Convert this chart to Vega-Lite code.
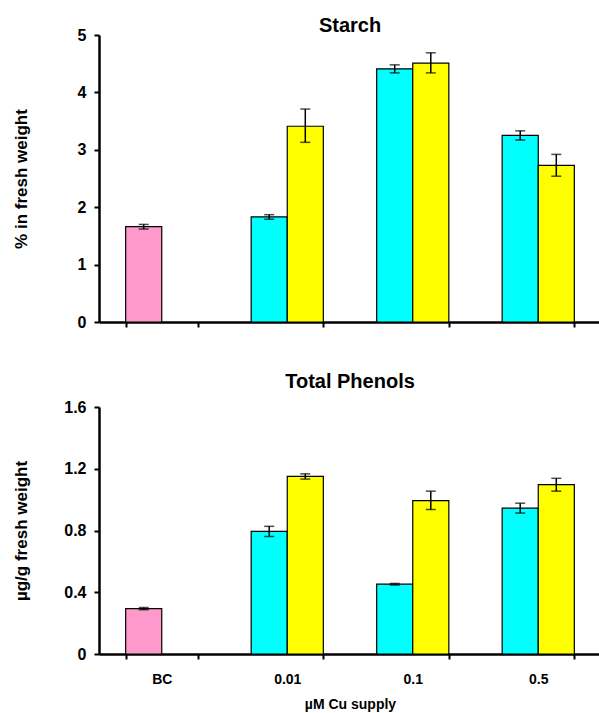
{
  "$schema": "https://vega.github.io/schema/vega-lite/v6.json",
  "padding": {"left": 12, "top": 16, "right": 0, "bottom": 4},
  "spacing": 42,
  "config": {
    "font": "Liberation Sans",
    "view": {"stroke": null},
    "axis": {
      "grid": false,
      "domainColor": "black",
      "domainWidth": 2.5,
      "tickColor": "black",
      "tickWidth": 2,
      "tickSize": 5,
      "labelColor": "black",
      "labelFontWeight": "bold",
      "titleColor": "black",
      "titleFontWeight": "bold"
    },
    "title": {"fontSize": 20, "fontWeight": "bold", "color": "black"}
  },
  "datasets": {
    "d": [
      {"panel": "Starch", "cu": "BC", "slot": "A", "series": "BC", "v": 1.66, "lo": 1.62, "hi": 1.70},
      {"panel": "Starch", "cu": "0.01", "slot": "A", "series": "S1", "v": 1.83, "lo": 1.79, "hi": 1.87},
      {"panel": "Starch", "cu": "0.01", "slot": "B", "series": "S2", "v": 3.41, "lo": 3.13, "hi": 3.71},
      {"panel": "Starch", "cu": "0.1", "slot": "A", "series": "S1", "v": 4.41, "lo": 4.34, "hi": 4.48},
      {"panel": "Starch", "cu": "0.1", "slot": "B", "series": "S2", "v": 4.51, "lo": 4.34, "hi": 4.69},
      {"panel": "Starch", "cu": "0.5", "slot": "A", "series": "S1", "v": 3.25, "lo": 3.17, "hi": 3.33},
      {"panel": "Starch", "cu": "0.5", "slot": "B", "series": "S2", "v": 2.73, "lo": 2.54, "hi": 2.92},
      {"panel": "Phenols", "cu": "BC", "slot": "A", "series": "BC", "v": 0.294, "lo": 0.287, "hi": 0.301},
      {"panel": "Phenols", "cu": "0.01", "slot": "A", "series": "S1", "v": 0.794, "lo": 0.761, "hi": 0.827},
      {"panel": "Phenols", "cu": "0.01", "slot": "B", "series": "S2", "v": 1.15, "lo": 1.133, "hi": 1.167},
      {"panel": "Phenols", "cu": "0.1", "slot": "A", "series": "S1", "v": 0.452, "lo": 0.447, "hi": 0.457},
      {"panel": "Phenols", "cu": "0.1", "slot": "B", "series": "S2", "v": 0.993, "lo": 0.936, "hi": 1.055},
      {"panel": "Phenols", "cu": "0.5", "slot": "A", "series": "S1", "v": 0.945, "lo": 0.913, "hi": 0.977},
      {"panel": "Phenols", "cu": "0.5", "slot": "B", "series": "S2", "v": 1.097, "lo": 1.055, "hi": 1.138}
    ]
  },
  "vconcat": [
    {
      "width": 502,
      "height": 287,
      "title": {"text": "Starch", "offset": -9},
      "data": {"name": "d"},
      "transform": [{"filter": "datum.panel === 'Starch'"}],
      "encoding": {
        "x": {
          "field": "cu", "type": "nominal", "sort": ["BC", "0.01", "0.1", "0.5"],
          "scale": {"paddingInner": 0.425, "paddingOuter": 0.2125},
          "axis": {"labels": false, "title": null, "tickBand": "extent"}
        },
        "xOffset": {"field": "slot", "type": "nominal", "scale": {"domain": ["A", "B"]}}
      },
      "layer": [
        {
          "mark": {"type": "bar", "stroke": "black", "strokeWidth": 1.2},
          "encoding": {
            "y": {
              "field": "v", "type": "quantitative",
              "scale": {"domain": [0, 5]},
              "axis": {"values": [0, 1, 2, 3, 4, 5], "format": "~g", "title": "% in fresh weight", "titleFontSize": 17, "labelFontSize": 16, "labelPadding": 8, "minExtent": 40, "maxExtent": 40, "titlePadding": 29}
            },
            "color": {"field": "series", "type": "nominal", "scale": {"domain": ["BC", "S1", "S2"], "range": ["#FF99CC", "#00FFFF", "#FFFF00"]}, "legend": null}
          }
        },
        {
          "mark": {"type": "rule", "color": "black", "strokeWidth": 1.5},
          "encoding": {"y": {"field": "lo", "type": "quantitative"}, "y2": {"field": "hi"}}
        },
        {
          "mark": {"type": "tick", "color": "black", "size": 10, "thickness": 1.5},
          "encoding": {"y": {"field": "lo", "type": "quantitative"}}
        },
        {
          "mark": {"type": "tick", "color": "black", "size": 10, "thickness": 1.5},
          "encoding": {"y": {"field": "hi", "type": "quantitative"}}
        }
      ]
    },
    {
      "width": 502,
      "height": 247,
      "title": {"text": "Total Phenols", "offset": 7},
      "data": {"name": "d"},
      "transform": [{"filter": "datum.panel === 'Phenols'"}],
      "encoding": {
        "x": {
          "field": "cu", "type": "nominal", "sort": ["BC", "0.01", "0.1", "0.5"],
          "scale": {"paddingInner": 0.425, "paddingOuter": 0.2125},
          "axis": {"labelAngle": 0, "labelFontSize": 14, "labelPadding": 13, "title": "µM Cu supply", "titleFontSize": 14, "titlePadding": 11, "tickBand": "extent"}
        },
        "xOffset": {"field": "slot", "type": "nominal", "scale": {"domain": ["A", "B"]}}
      },
      "layer": [
        {
          "mark": {"type": "bar", "stroke": "black", "strokeWidth": 1.2},
          "encoding": {
            "y": {
              "field": "v", "type": "quantitative",
              "scale": {"domain": [0, 1.6]},
              "axis": {"values": [0, 0.4, 0.8, 1.2, 1.6], "format": "~g", "title": "µg/g fresh weight", "titleFontSize": 17, "labelFontSize": 16, "labelPadding": 8, "minExtent": 40, "maxExtent": 40, "titlePadding": 29}
            },
            "color": {"field": "series", "type": "nominal", "scale": {"domain": ["BC", "S1", "S2"], "range": ["#FF99CC", "#00FFFF", "#FFFF00"]}, "legend": null}
          }
        },
        {
          "mark": {"type": "rule", "color": "black", "strokeWidth": 1.5},
          "encoding": {"y": {"field": "lo", "type": "quantitative"}, "y2": {"field": "hi"}}
        },
        {
          "mark": {"type": "tick", "color": "black", "size": 10, "thickness": 1.5},
          "encoding": {"y": {"field": "lo", "type": "quantitative"}}
        },
        {
          "mark": {"type": "tick", "color": "black", "size": 10, "thickness": 1.5},
          "encoding": {"y": {"field": "hi", "type": "quantitative"}}
        }
      ]
    }
  ]
}
